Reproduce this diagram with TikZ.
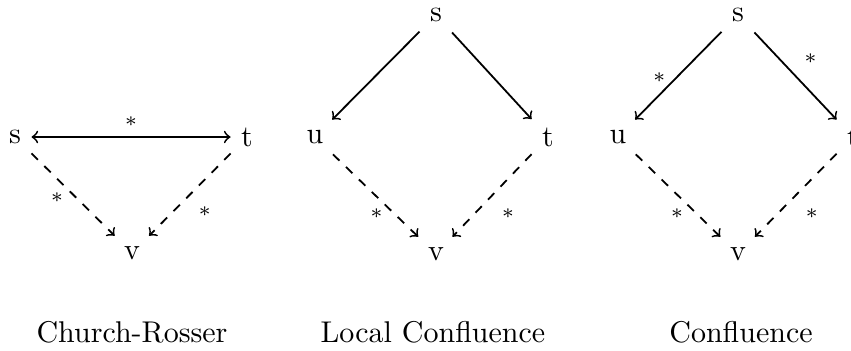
\documentclass[tikz,border=0pt]{standalone}
\begin{document}
\begin{tikzpicture}[x=0.33333pt,y=-0.33333pt,
  term/.style={inner sep=3.33pt},
  captext/.style={inner sep=0pt},
  redarrow/.style={->,line width=0.6pt},
  joinarrow/.style={->,dashed,line width=0.6pt},
  star/.style={inner sep=0pt,font=\scriptsize}]
\useasboundingbox (0,0) rectangle (851,350);
% Church-Rosser
\node[term] (s1) at (15,137) {s};
\node[term] (t1) at (247,137) {t};
\node[term] (v1) at (132,253) {v};
\draw[<->,line width=0.6pt] (s1) -- node[star,pos=0.5,shift={(0,-15)}] {$*$} (t1);
\draw[joinarrow] (s1) -- node[star,pos=0.5,shift={(-16,3)}] {$*$} (v1);
\draw[joinarrow] (t1) -- node[star,pos=0.5,shift={(15,17)}] {$*$} (v1);
\node[captext] (c1) at (132,332) {Church-Rosser};
% Local Confluence
\node[term] (s2) at (436,15) {s};
\node[term] (u2) at (315,137) {u};
\node[term] (t2) at (548,137) {t};
\node[term] (v2) at (436,254) {v};
\draw[redarrow] (s2) -- (u2);
\draw[redarrow] (s2) -- (t2);
\draw[joinarrow] (u2) -- node[star,pos=0.5,shift={(1,18)}] {$*$} (v2);
\draw[joinarrow] (t2) -- node[star,pos=0.5,shift={(16,18)}] {$*$} (v2);
\node[captext] (c2) at (433,332) {Local Confluence};
% Confluence
\node[term] (s3) at (738,15) {s};
\node[term] (u3) at (618,137) {u};
\node[term] (t3) at (853,137) {t};
\node[term] (v3) at (738,254) {v};
\draw[redarrow] (s3) -- node[star,pos=0.5,shift={(-19,2)}] {$*$} (u3);
\draw[redarrow] (s3) -- node[star,pos=0.5,shift={(15,-17)}] {$*$} (t3);
\draw[joinarrow] (u3) -- node[star,pos=0.5,shift={(-1,18)}] {$*$} (v3);
\draw[joinarrow] (t3) -- node[star,pos=0.5,shift={(16,18)}] {$*$} (v3);
\node[captext] (c3) at (741,332) {Confluence};
\end{tikzpicture}
\end{document}
